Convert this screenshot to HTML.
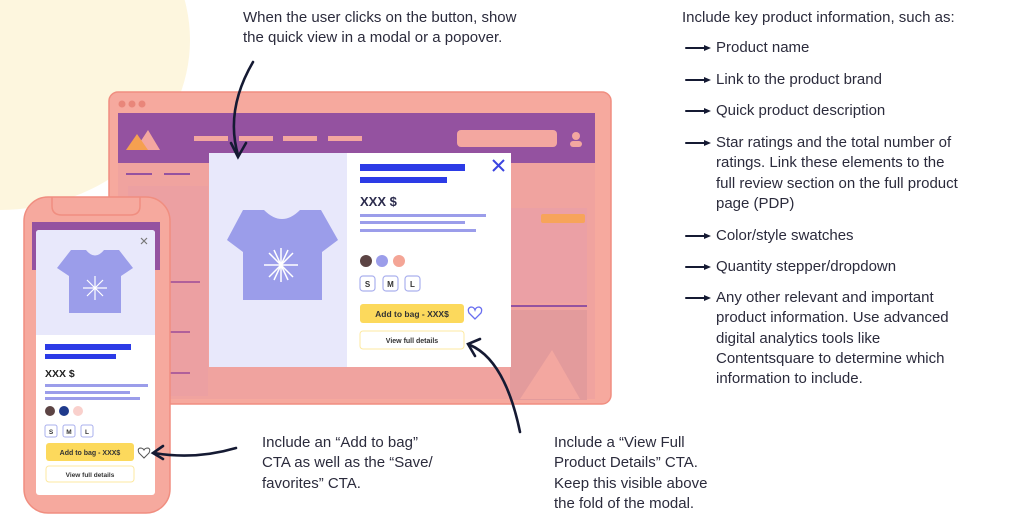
<!DOCTYPE html>
<html><head><meta charset="utf-8"><style>
body{margin:0;width:1024px;height:521px;overflow:hidden;background:#fff;position:relative;font-family:"Liberation Sans",sans-serif;color:#2b2b3c}
.t{position:absolute;font-size:15px;line-height:20.3px;white-space:nowrap}
svg{position:absolute;left:0;top:0}
</style></head><body>
<svg width="1024" height="521" viewBox="0 0 1024 521">
<ellipse cx="0" cy="40" rx="190" ry="170" fill="#fdf6de"/>
<!-- browser -->
<rect x="109" y="92" width="502" height="312" rx="9" fill="#f6a99e" stroke="#f08e80" stroke-width="1.5"/>
<circle cx="122" cy="104" r="3.5" fill="#e9867a"/><circle cx="132" cy="104" r="3.5" fill="#e9867a"/><circle cx="142" cy="104" r="3.5" fill="#e9867a"/>
<rect x="118" y="113" width="477" height="50" fill="#9452a0"/>
<polygon points="135,150 148,130 160,150" fill="#f3a7a0"/><polygon points="126,150 137,134 148,150" fill="#f5a050"/>
<rect x="194" y="136" width="34" height="5" fill="#f3a7a0"/><rect x="239" y="136" width="34" height="5" fill="#f3a7a0"/><rect x="283" y="136" width="34" height="5" fill="#f3a7a0"/><rect x="328" y="136" width="34" height="5" fill="#f3a7a0"/>
<rect x="457" y="130" width="100" height="17" rx="4" fill="#f3a7a0"/>
<circle cx="576" cy="136" r="4" fill="#f3a7a0"/><rect x="570" y="141" width="12" height="6" rx="3" fill="#f3a7a0"/>
<rect x="118" y="163" width="477" height="236" fill="#f0a39f"/>
<rect x="126" y="173" width="26" height="2" fill="#9452a0"/><rect x="164" y="173" width="26" height="2" fill="#9452a0"/>
<rect x="128" y="186" width="80" height="210" fill="#eca0a2"/>
<g fill="#b0609a"><rect x="170" y="281" width="30" height="2"/><rect x="170" y="331" width="20" height="2"/><rect x="170" y="372" width="20" height="2"/></g>
<rect x="510" y="208" width="77" height="95" fill="#eba0a5"/>
<rect x="510" y="310" width="77" height="90" fill="#e39b9c"/>
<polygon points="520,399 552,350 580,399" fill="#f3a7a0"/>
<rect x="541" y="214" width="44" height="9" rx="2" fill="#f7a45a"/>
<rect x="510" y="305" width="77" height="2" fill="#9452a0"/>
<!-- modal -->
<rect x="209" y="153" width="302" height="214" fill="#fff"/>
<rect x="209" y="153" width="138" height="214" fill="#e8e8fb"/>
<path d="M243,210 L264,210 Q282,228 300,210 L321,210 L338,240 L322,252 L322,300 L243,300 L243,252 L227,240 Z" fill="#9b9dea"/>
<g stroke="#fff" stroke-width="1.5"><line x1="264" y1="265" x2="298" y2="265"/><line x1="281" y1="248" x2="281" y2="282"/><line x1="269" y1="253" x2="293" y2="277"/><line x1="293" y1="253" x2="269" y2="277"/><line x1="274" y1="250" x2="288" y2="280"/><line x1="288" y1="250" x2="274" y2="280"/></g>
<path d="M493,160 L504,171 M504,160 L493,171" stroke="#3b44e0" stroke-width="2"/>
<rect x="360" y="164" width="105" height="7" fill="#2c3be6"/><rect x="360" y="177" width="87" height="6" fill="#2c3be6"/>
<text x="360" y="206" font-family="Liberation Sans" font-weight="bold" font-size="13" fill="#2b2b4c">XXX $</text>
<rect x="360" y="214" width="126" height="3" fill="#9b9dea"/><rect x="360" y="221" width="105" height="3" fill="#9b9dea"/><rect x="360" y="229" width="116" height="3" fill="#9b9dea"/>
<circle cx="366" cy="261" r="6" fill="#5c4444"/><circle cx="382" cy="261" r="6" fill="#9b9dea"/><circle cx="399" cy="261" r="6" fill="#f4a596"/>
<g fill="#fff" stroke="#aab0ee" stroke-width="1.2"><rect x="360" y="276" width="15" height="15" rx="3"/><rect x="383" y="276" width="15" height="15" rx="3"/><rect x="405" y="276" width="15" height="15" rx="3"/></g>
<g font-family="Liberation Sans" font-weight="bold" font-size="8" fill="#333" text-anchor="middle"><text x="367.5" y="287">S</text><text x="390.5" y="287">M</text><text x="412.5" y="287">L</text></g>
<rect x="360" y="304" width="104" height="19" rx="3" fill="#fcd95c"/>
<text x="412" y="317" text-anchor="middle" font-family="Liberation Sans" font-weight="bold" font-size="8.5" fill="#333">Add to bag - XXX$</text>
<path d="M475,319 L469,313 Q467,308 471,307 Q474,307 475,310 Q476,307 479,307 Q483,308 481,313 Z" fill="none" stroke="#6a6ff0" stroke-width="1.3"/>
<rect x="360" y="331" width="104" height="18" rx="3" fill="#fff" stroke="#fde9a0"/>
<text x="412" y="343" text-anchor="middle" font-family="Liberation Sans" font-weight="bold" font-size="7" fill="#333">View full details</text>
<!-- phone -->
<rect x="24" y="197" width="146" height="316" rx="24" fill="#f6a99e" stroke="#f08e80" stroke-width="1.5"/>
<path d="M52,197 L52,206 Q52,215 62,215 L130,215 Q140,215 140,206 L140,197" fill="none" stroke="#f08e80" stroke-width="1.5"/>
<rect x="32" y="222" width="128" height="48" fill="#9452a0"/>
<rect x="36" y="230" width="119" height="265" rx="3" fill="#fff"/>
<path d="M36,233 Q36,230 39,230 L152,230 Q155,230 155,233 L155,335 L36,335 Z" fill="#e8e8fb"/>
<path d="M71,250 L86,250 Q95,261 104,250 L119,250 L133,268 L121,276 L121,313 L69,313 L69,276 L57,268 Z" fill="#9b9dea"/>
<g stroke="#fff" stroke-width="1.2"><line x1="83" y1="288" x2="107" y2="288"/><line x1="95" y1="276" x2="95" y2="300"/><line x1="87" y1="280" x2="103" y2="296"/><line x1="103" y1="280" x2="87" y2="296"/></g>
<path d="M141,238 L147,244 M147,238 L141,244" stroke="#777" stroke-width="1.2"/>
<rect x="45" y="344" width="86" height="6" fill="#2c3be6"/><rect x="45" y="354" width="71" height="5" fill="#2c3be6"/>
<text x="45" y="377" font-family="Liberation Sans" font-weight="bold" font-size="10.5" fill="#222">XXX $</text>
<rect x="45" y="384" width="103" height="3" fill="#9b9dea"/><rect x="45" y="391" width="85" height="3" fill="#9b9dea"/><rect x="45" y="397" width="95" height="3" fill="#9b9dea"/>
<circle cx="50" cy="411" r="5" fill="#5c4444"/><circle cx="64" cy="411" r="5" fill="#1f3a8c"/><circle cx="78" cy="411" r="5" fill="#f9d0cc"/>
<g fill="#fff" stroke="#aab0ee"><rect x="45" y="425" width="12" height="12" rx="2"/><rect x="63" y="425" width="12" height="12" rx="2"/><rect x="81" y="425" width="12" height="12" rx="2"/></g>
<g font-family="Liberation Sans" font-weight="bold" font-size="6.5" fill="#333" text-anchor="middle"><text x="51" y="434">S</text><text x="69" y="434">M</text><text x="87" y="434">L</text></g>
<rect x="46" y="443" width="88" height="18" rx="3" fill="#fcd95c"/>
<text x="90" y="455" text-anchor="middle" font-family="Liberation Sans" font-weight="bold" font-size="7" fill="#333">Add to bag - XXX$</text>
<path d="M144,458 L139,453 Q137,449 140,448 Q143,448 144,450 Q145,448 148,448 Q151,449 149,453 Z" fill="none" stroke="#555" stroke-width="1"/>
<rect x="46" y="466" width="88" height="16" rx="3" fill="#fff" stroke="#fde9a0"/>
<text x="90" y="477" text-anchor="middle" font-family="Liberation Sans" font-weight="bold" font-size="6.5" fill="#333">View full details</text>
<!-- arrows -->
<g fill="none" stroke="#151a33" stroke-width="2.6" stroke-linecap="round">
<path d="M253,62 Q225,110 238,155"/><path d="M231,143 L238,157 L246,143"/>
<path d="M520,432 Q505,360 470,345"/><path d="M480,339 L468,344 L475,356"/>
<path d="M236,448 Q195,460 154,453"/><path d="M163,446 L153,453 L163,459"/>
</g>
<g stroke="#151a33" stroke-width="2" stroke-linecap="round">
<line x1="686" y1="48" x2="707" y2="48"/><line x1="686" y1="80" x2="707" y2="80"/><line x1="686" y1="111" x2="707" y2="111"/><line x1="686" y1="143" x2="707" y2="143"/><line x1="686" y1="236" x2="707" y2="236"/><line x1="686" y1="267" x2="707" y2="267"/><line x1="686" y1="298" x2="707" y2="298"/>
</g>
<g fill="#151a33">
<polygon points="704,45 711,48 704,51"/><polygon points="704,77 711,80 704,83"/><polygon points="704,108 711,111 704,114"/><polygon points="704,140 711,143 704,146"/><polygon points="704,233 711,236 704,239"/><polygon points="704,264 711,267 704,270"/><polygon points="704,295 711,298 704,301"/>
</g>
</svg>
<div class="t" style="left:243px;top:8px">When the user clicks on the button, show<br>the quick view in a modal or a popover.</div>
<div class="t" style="left:682px;top:8px">Include key product information, such as:</div>
<div class="t" style="left:716px;top:38px">Product name</div>
<div class="t" style="left:716px;top:70px">Link to the product brand</div>
<div class="t" style="left:716px;top:101px">Quick product description</div>
<div class="t" style="left:716px;top:133px">Star ratings and the total number of<br>ratings. Link these elements to the<br>full review section on the full product<br>page (PDP)</div>
<div class="t" style="left:716px;top:226px">Color/style swatches</div>
<div class="t" style="left:716px;top:257px">Quantity stepper/dropdown</div>
<div class="t" style="left:716px;top:288px">Any other relevant and important<br>product information. Use advanced<br>digital analytics tools like<br>Contentsquare to determine which<br>information to include.</div>
<div class="t" style="left:262px;top:433px">Include an “Add to bag”<br>CTA as well as the “Save/<br>favorites” CTA.</div>
<div class="t" style="left:554px;top:433px">Include a “View Full<br>Product Details” CTA.<br>Keep this visible above<br>the fold of the modal.</div>
</body></html>
